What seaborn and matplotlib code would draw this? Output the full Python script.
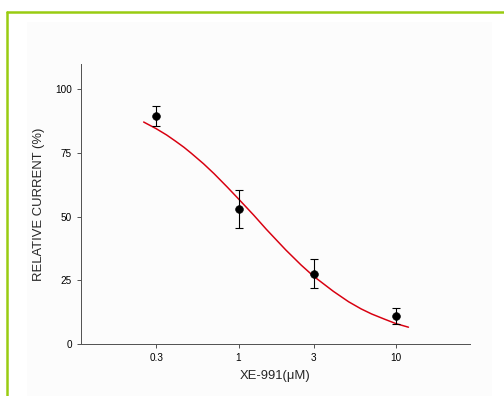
import numpy as np
import pandas as pd
import matplotlib
matplotlib.use("Agg")
import matplotlib.pyplot as plt
import seaborn as sns
from matplotlib.patches import Rectangle
from matplotlib.lines import Line2D

# measured points (mean +/- error)
conc = [0.3, 1, 3, 10]
current = [89.5, 53.0, 27.5, 11.0]
err_low = [4.0, 7.5, 5.5, 3.0]
err_high = [4.0, 7.5, 6.0, 3.0]

# fitted curve
fit_conc = [0.25, 0.3, 0.35, 0.4, 0.45, 0.5, 0.6, 0.7, 0.85, 1.0, 1.25, 1.5, 1.75, 2.0,
            2.5, 3.0, 4.0, 5.0, 6.0, 7.0, 8.5, 10.0, 12.0]
fit_current = [87.2, 84.6, 82.1, 79.6, 77.3, 75.0, 70.8, 66.9, 61.6, 57.0, 50.6, 45.1, 40.7, 36.9,
               31.0, 26.6, 20.7, 16.6, 13.8, 11.8, 9.7, 8.0, 6.6]

xticks = [0.3, 1, 3, 10]
xtick_labels = ["0.3", "1", "3", "10"]
yticks = [0, 25, 50, 75, 100]

sns.set_style("ticks")
plt.rcParams['font.family'] = ['Liberation Sans', 'DejaVu Sans']

fig = plt.figure(figsize=(7, 5.5), dpi=72)

# background panel and green frame
fig.add_artist(Rectangle((27 / 504, 0), (492 - 27) / 504, 1 - 22 / 396,
                         transform=fig.transFigure, facecolor='#fcfcfc',
                         edgecolor='none', zorder=0))
fig.add_artist(Line2D([7 / 504, 7 / 504], [0, 1 - 11.5 / 396], transform=fig.transFigure,
                      color='#99cc11', lw=2.5))
fig.add_artist(Line2D([7 / 504, 1], [1 - 11.5 / 396, 1 - 11.5 / 396], transform=fig.transFigure,
                      color='#99cc11', lw=2.5))

ax = fig.add_axes([81 / 504, 1 - 344 / 396, (470 - 81) / 504, (344 - 64) / 396])
ax.patch.set_alpha(0)

fit_df = pd.DataFrame({'conc': fit_conc, 'current': fit_current})
pts_df = pd.DataFrame({'conc': conc, 'current': current})

sns.lineplot(data=fit_df, x='conc', y='current', color='#d80010', lw=1.5, ax=ax)
ax.errorbar(conc, current, yerr=[err_low, err_high], fmt='none', ecolor='black',
            elinewidth=1.1, capsize=4, capthick=1.1, zorder=3)
sns.scatterplot(data=pts_df, x='conc', y='current', color='black', s=60,
                edgecolor='black', zorder=4, ax=ax)

ax.set_xscale('log')
ax.set_xlim(0.1, 29.5)
ax.set_ylim(0, 110)
ax.set_xticks(xticks)
ax.set_xticklabels(xtick_labels)
ax.minorticks_off()
ax.set_yticks(yticks)

for s in ['top', 'right']:
    ax.spines[s].set_visible(False)
for s in ['left', 'bottom']:
    ax.spines[s].set_color('#555555')
    ax.spines[s].set_linewidth(1.0)
ax.tick_params(axis='both', colors='#555555', length=4, width=1, labelsize=10,
               labelcolor='black', pad=5)

ax.set_xlabel('XE-991(μM)', fontsize=13, labelpad=7)
ax.set_ylabel('RELATIVE CURRENT (%)', fontsize=13, labelpad=10)

fig.savefig('out.png', dpi=72)
